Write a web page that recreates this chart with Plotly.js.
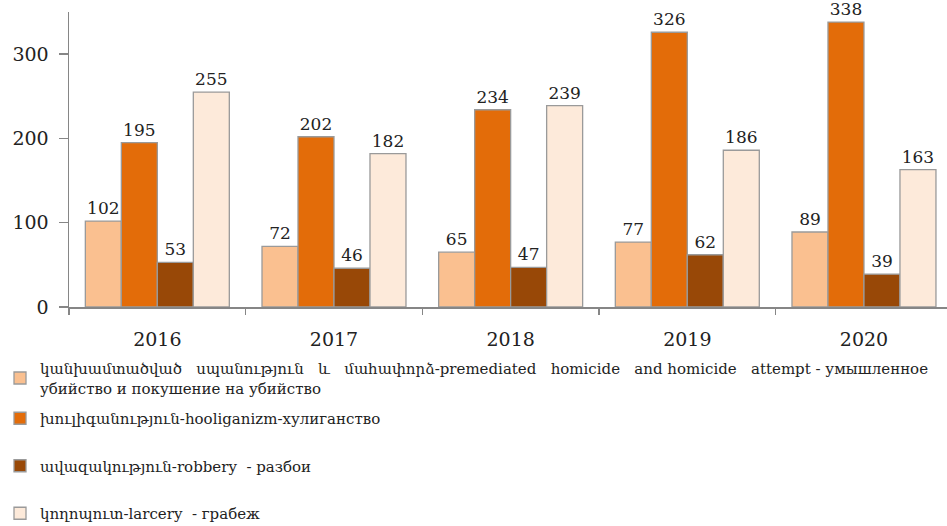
<!DOCTYPE html>
<html>
<head>
<meta charset="utf-8">
<script src="https://cdn.plot.ly/plotly-3.0.1.min.js"></script>
<style>html,body{margin:0;padding:0;background:#fff;}#chart{width:947px;height:526px;}</style>
</head>
<body>
<div id="chart"></div>
<script>
const years = ["2016", "2017", "2018", "2019", "2020"];
const homicide = [102, 72, 65, 77, 89];
const hooliganism = [195, 202, 234, 326, 338];
const robbery = [53, 46, 47, 62, 39];
const larceny = [255, 182, 239, 186, 163];
const yTicks = [0, 100, 200, 300];

const S = "\u00A0";
const G = S + S + S;
const names = [
  "կանխամտածված" + G + "սպանություն" + G + "և" + G + "մահափորձ-premediated" + G + "homicide" + G + "and" + S + "homicide" + G + "attempt" + S + "-" + S + "умышленное<br>убийство и покушение на убийство",
  "խուլիգանություն-hooliganizm-хулиганство",
  "ավազակություն-robbery" + S+S + "-" + S + "разбои",
  "կողոպուտ-larcery" + S+S + "-" + S + "грабеж"
];
const colors = ["#FAC090", "#E36C09", "#984807", "#FDEADA"];
const series = [homicide, hooliganism, robbery, larceny];

const serif = "DejaVu Serif, Liberation Serif, serif";
const traces = series.map((vals, i) => ({
  type: "bar",
  x: years,
  y: vals,
  name: names[i],
  text: vals.map(String),
  textposition: "outside",
  cliponaxis: false,
  textfont: {family: serif, size: 17, color: "#222"},
  marker: {color: colors[i], line: {color: "#9a9a9a", width: 1.3}},
  legend: i === 0 ? "legend" : "legend2",
  legendgroup: "g" + i,
  hoverinfo: "skip"
}));

const legendFont = {family: serif, size: 15, color: "#222"};
const layout = {
  width: 947, height: 526,
  margin: {l: 69, r: 0, t: 12, b: 219, autoexpand: false},
  paper_bgcolor: "#fff", plot_bgcolor: "#fff",
  barmode: "group", bargap: 0.185, bargroupgap: 0,
  font: {family: serif, color: "#222"},
  xaxis: {
    type: "category", range: [-0.5, 4.47],
    showline: true, linecolor: "#868686", linewidth: 1.5,
    ticks: "outside", tickson: "boundaries", ticklen: 6, tickcolor: "#868686", tickwidth: 1.5,
    ticklabelstandoff: 15, tickangle: 0,
    tickfont: {family: serif, size: 19, color: "#222"},
    showgrid: false, zeroline: false, fixedrange: true
  },
  yaxis: {
    range: [0, 350], tickvals: yTicks, ticktext: yTicks.map(String),
    showline: true, linecolor: "#868686", linewidth: 1.5,
    ticks: "outside", ticklen: 9, tickcolor: "#868686", tickwidth: 1.5,
    ticklabelstandoff: 6,
    tickfont: {family: serif, size: 19, color: "#222"},
    showgrid: false, zeroline: false, fixedrange: true
  },
  showlegend: true,
  legend: {
    xref: "container", yref: "container", x: 0, y: 1 - 352/526,
    xanchor: "left", yanchor: "top",
    font: legendFont,
    bgcolor: "rgba(0,0,0,0)", itemclick: false, itemdoubleclick: false,
    tracegroupgap: 0
  },
  legend2: {
    xref: "container", yref: "container", x: 0, y: 1 - 402/526,
    xanchor: "left", yanchor: "top",
    font: legendFont,
    bgcolor: "rgba(0,0,0,0)", traceorder: "grouped", tracegroupgap: 25,
    itemclick: false, itemdoubleclick: false
  }
};

Plotly.newPlot("chart", traces, layout, {displayModeBar: false, staticPlot: true});
</script>
</body>
</html>
